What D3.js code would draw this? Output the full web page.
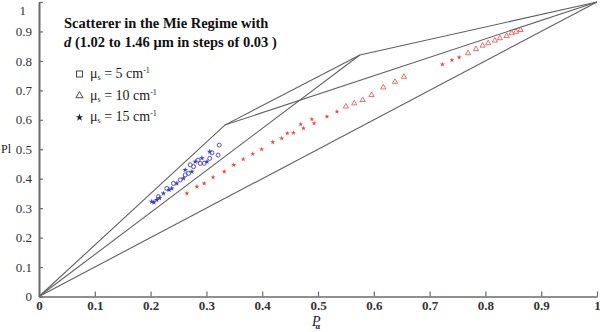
<!DOCTYPE html>
<html>
<head>
<meta charset="utf-8">
<script src="https://cdn.jsdelivr.net/npm/d3@7/dist/d3.min.js"></script>
<style>
  html, body { margin: 0; padding: 0; background: #fff; }
  svg { display: block; font-family: "Liberation Serif", "DejaVu Serif", serif; }
</style>
</head>
<body>
<svg id="chart" width="600" height="332"></svg>
<script>
// Axis ticks
const xTicks = [0, 0.1, 0.2, 0.3, 0.4, 0.5, 0.6, 0.7, 0.8, 0.9, 1];
const yTicks = [0, 0.1, 0.2, 0.3, 0.4, 0.5, 0.6, 0.7, 0.8, 0.9, 1];

// Boundary polylines of the admissible region
const boundaryUpper = [[0, 0], [0.333, 0.582], [0.575, 0.82], [1, 1]];
const boundaryMid   = [[0, 0], [0.575, 0.82]];
const boundaryInner = [[0.333, 0.582], [1, 1]];
const boundaryDiag  = [[0, 0], [1, 1]];

// Blue group: open circles
const blueCircles = [
  [0.323, 0.514], [0.310, 0.488], [0.306, 0.469], [0.296, 0.452], [0.285, 0.463],
  [0.277, 0.441], [0.271, 0.447], [0.262, 0.413], [0.253, 0.396], [0.241, 0.384],
  [0.229, 0.367], [0.214, 0.339], [0.321, 0.480], [0.289, 0.452], [0.268, 0.418]
];
// Blue group: stars
const blueStars = [
  [0.306, 0.492], [0.301, 0.458], [0.280, 0.458], [0.274, 0.424], [0.259, 0.401],
  [0.247, 0.384], [0.238, 0.367], [0.223, 0.350], [0.211, 0.328], [0.202, 0.322],
  [0.206, 0.320], [0.216, 0.334], [0.233, 0.362], [0.262, 0.430], [0.292, 0.470]
];

// Red group: small filled points
const redDots = [
  [0.265, 0.350], [0.283, 0.373], [0.296, 0.384], [0.312, 0.405], [0.332, 0.424],
  [0.349, 0.447], [0.366, 0.466], [0.383, 0.484], [0.399, 0.500], [0.419, 0.524],
  [0.435, 0.537], [0.445, 0.554], [0.456, 0.556], [0.469, 0.585], [0.474, 0.571],
  [0.489, 0.602], [0.493, 0.588], [0.516, 0.611], [0.534, 0.628], [0.723, 0.788],
  [0.740, 0.803], [0.753, 0.812]
];
// Red group: open triangles
const redTriangles = [
  [0.550, 0.645], [0.565, 0.656], [0.580, 0.667], [0.596, 0.684], [0.617, 0.710],
  [0.638, 0.729], [0.654, 0.746], [0.769, 0.826], [0.783, 0.840], [0.795, 0.852],
  [0.805, 0.860], [0.817, 0.869], [0.826, 0.877], [0.838, 0.885], [0.847, 0.894],
  [0.855, 0.899], [0.863, 0.905]
];

// Legend entries
const legendLabels = [
  { sym: "square", value: "5" },
  { sym: "triangle", value: "10" },
  { sym: "star", value: "15" }
];

const svg = d3.select("#chart");
const x = d3.scaleLinear().domain([0, 1]).range([39, 597]);
const y = d3.scaleLinear().domain([0, 1]).range([296.5, 2]);

const axisColor = "#6a6a6a";
const lineColor = "#606060";

// Boundary lines
const line = d3.line().x(d => x(d[0])).y(d => y(d[1]));
[boundaryUpper, boundaryMid, boundaryInner, boundaryDiag].forEach(pts => {
  svg.append("path")
    .attr("d", line(pts))
    .attr("fill", "none")
    .attr("stroke", lineColor)
    .attr("stroke-width", 1.1);
});

const fmt = d => d === 0 || d === 1 ? String(d) : d3.format(".1f")(d);

// X axis (ticks point up into the plot)
const xAxis = d3.axisBottom(x).tickValues(xTicks).tickSizeInner(-5).tickSizeOuter(0).tickFormat(fmt);
const gx = svg.append("g").attr("transform", `translate(0,${y(0)})`).call(xAxis);
gx.select(".domain").attr("stroke", axisColor).attr("stroke-width", 1.6);
gx.selectAll(".tick line").attr("stroke", axisColor).attr("stroke-width", 1.2);
gx.selectAll(".tick text")
  .attr("y", 4)
  .attr("fill", "#333")
  .style("font-family", "'Liberation Serif', serif")
  .style("font-size", "13px")
  .style("font-weight", "bold");

// Y axis (ticks point right into the plot)
const yAxis = d3.axisLeft(y).tickValues(yTicks).tickSizeInner(-4).tickSizeOuter(0).tickFormat(fmt);
const gy = svg.append("g").attr("transform", `translate(${x(0)},0)`).call(yAxis);
gy.select(".domain").attr("stroke", axisColor).attr("stroke-width", 2);
gy.selectAll(".tick line").attr("stroke", axisColor).attr("stroke-width", 1.2);
gy.selectAll(".tick text")
  .attr("x", -7)
  .attr("fill", "#333")
  .style("font-family", "'Liberation Serif', serif")
  .style("font-size", "13px");
// keep the top label inside the frame
gy.selectAll(".tick text").filter(d => d === 1).attr("x", -13).attr("dy", "0.95em");

// Axis titles
svg.append("text").attr("x", 1).attr("y", 153)
  .style("font-size", "12px").attr("fill", "#222").text("Pl");
const xt = svg.append("text").attr("x", 312).attr("y", 326).attr("fill", "#222");
xt.append("tspan").style("font-size", "14px").style("font-style", "italic").text("P");
xt.append("tspan").attr("dx", -5).attr("dy", 3).style("font-size", "8px")
  .style("font-weight", "bold").text("α");

// Data markers
const blue = "#3a3ae0";
const red = "#f04545";
svg.append("g").selectAll("circle").data(blueCircles).join("circle")
  .attr("cx", d => x(d[0])).attr("cy", d => y(d[1])).attr("r", 2)
  .attr("fill", "none").attr("stroke", blue).attr("stroke-width", 0.9);
svg.append("g").selectAll("path").data(blueStars).join("path")
  .attr("transform", d => `translate(${x(d[0])},${y(d[1])})`)
  .attr("d", d3.symbol(d3.symbolStar, 10))
  .attr("fill", blue);
svg.append("g").selectAll("path").data(redDots).join("path")
  .attr("transform", d => `translate(${x(d[0])},${y(d[1])})`)
  .attr("d", d3.symbol(d3.symbolStar, 8))
  .attr("fill", red);
svg.append("g").selectAll("path").data(redTriangles).join("path")
  .attr("transform", d => `translate(${x(d[0])},${y(d[1])})`)
  .attr("d", d3.symbol(d3.symbolTriangle, 12))
  .attr("fill", "none").attr("stroke", red).attr("stroke-width", 0.8);

// Title
svg.append("text").attr("x", 64).attr("y", 28)
  .style("font-size", "14.5px").style("font-weight", "bold").attr("fill", "#111")
  .text("Scatterer in the Mie Regime with");
const t2 = svg.append("text").attr("x", 64).attr("y", 47)
  .style("font-size", "14.5px").style("font-weight", "bold").attr("fill", "#111");
t2.append("tspan").style("font-style", "italic").text("d");
t2.append("tspan").text(" (1.02 to 1.46 μm in steps of 0.03 )");

// Legend
const lg = svg.append("g");
legendLabels.forEach((e, i) => {
  const cy = 74 + i * 21.7;
  const cx = 79.5;
  if (e.sym === "square") {
    lg.append("rect").attr("x", cx - 3).attr("y", cy - 3).attr("width", 6).attr("height", 6)
      .attr("fill", "none").attr("stroke", "#333").attr("stroke-width", 0.9);
  } else if (e.sym === "triangle") {
    lg.append("path").attr("transform", `translate(${cx},${cy})`)
      .attr("d", d3.symbol(d3.symbolTriangle, 22))
      .attr("fill", "none").attr("stroke", "#333").attr("stroke-width", 0.9);
  } else {
    lg.append("path").attr("transform", `translate(${cx},${cy})`)
      .attr("d", d3.symbol(d3.symbolStar, 18)).attr("fill", "#222");
  }
  const t = lg.append("text").attr("x", 90).attr("y", cy + 4)
    .style("font-size", "14px").attr("fill", "#222");
  t.append("tspan").text("μ");
  t.append("tspan").attr("dy", 2).style("font-size", "8px").text("s");
  t.append("tspan").attr("dy", -2).text(" = " + e.value + " cm");
  t.append("tspan").attr("dy", -5).style("font-size", "8px").text("-1");
});
</script>
</body>
</html>
